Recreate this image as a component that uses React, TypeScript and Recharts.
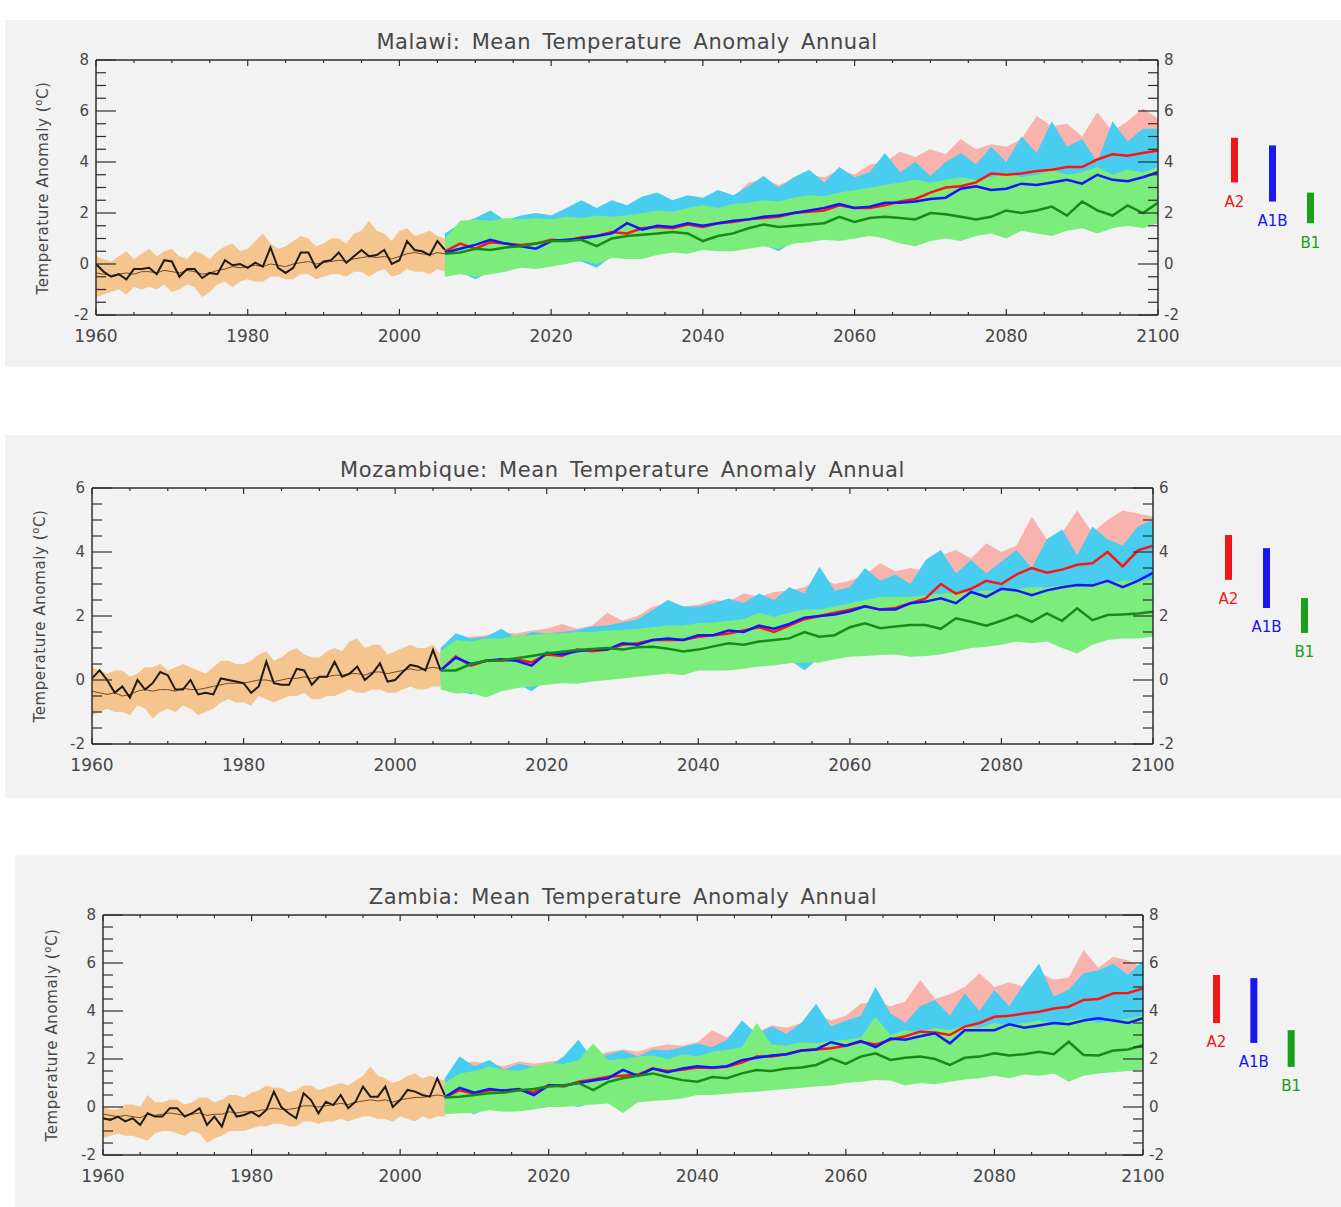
import React from "react"
import { Area, Bar, Cell, ComposedChart, LabelList, Line, XAxis, YAxis } from "recharts"

// ---- axes / categories ----
const histYears = Array.from({ length: 47 }, (_, i) => 1960 + i) // 1960..2006
const projYears = Array.from({ length: 48 }, (_, i) => 2006 + 2 * i) // 2006..2100
const xTicks = [1960, 1965, 1970, 1975, 1980, 1985, 1990, 1995, 2000, 2005, 2010, 2015, 2020, 2025, 2030, 2035, 2040, 2045, 2050, 2055, 2060, 2065, 2070, 2075, 2080, 2085, 2090, 2095, 2100]
const yTicks8 = [-2, -1.5, -1, -0.5, 0, 0.5, 1, 1.5, 2, 2.5, 3, 3.5, 4, 4.5, 5, 5.5, 6, 6.5, 7, 7.5, 8]
const yTicks6 = [-2, -1.5, -1, -0.5, 0, 0.5, 1, 1.5, 2, 2.5, 3, 3.5, 4, 4.5, 5, 5.5, 6]
const scenarios = ["A2", "A1B", "B1"]

// ---- Malawi ----
const malawiObs = [
  0.0, -0.3, -0.5, -0.4, -0.6, -0.2, -0.2, -0.15, -0.4, 0.15,
  0.1, -0.5, -0.2, -0.2, -0.55, -0.35, -0.4, 0.15, -0.05, 0.0,
  -0.15, 0.05, -0.1, 0.65, -0.15, -0.35, -0.15, 0.45, 0.45, -0.15,
  0.1, 0.15, 0.45, 0.05, 0.3, 0.55, 0.3, 0.35, 0.55, 0.0,
  0.15, 0.9, 0.55, 0.5, 0.35, 0.9, 0.55,
]
const malawiMean = [
  -0.35, -0.4, -0.45, -0.4, -0.35, -0.4, -0.3, -0.3, -0.35, -0.25,
  -0.3, -0.35, -0.25, -0.3, -0.4, -0.35, -0.25, -0.2, -0.1, -0.15,
  -0.1, -0.05, -0.1, 0.0, -0.05, -0.1, 0.0, 0.05, 0.1, 0.0,
  0.05, 0.1, 0.15, 0.1, 0.2, 0.25, 0.3, 0.25, 0.3, 0.2,
  0.3, 0.4, 0.45, 0.4, 0.35, 0.45, 0.4,
]
const malawiHistHi = [
  0.3, 0.2, 0.1, 0.3, 0.5, 0.2, 0.4, 0.6, 0.3, 0.5,
  0.6, 0.3, 0.2, 0.5, 0.4, 0.2, 0.5, 0.7, 0.8, 0.5,
  0.6, 0.9, 1.2, 0.8, 0.6, 0.7, 0.9, 1.1, 1.0, 0.7,
  0.8, 1.0, 1.0, 0.8, 1.2, 1.3, 1.7, 1.3, 1.2, 0.9,
  1.3, 1.4, 1.1, 1.2, 1.3, 1.1, 1.0,
]
const malawiHistLo = [
  -1.3, -1.2, -1.1, -1.0, -1.2, -0.9, -1.0, -0.9, -1.0, -0.8,
  -1.1, -1.0, -0.8, -0.9, -1.3, -1.1, -0.8, -0.7, -0.9, -0.7,
  -0.6, -0.7, -0.7, -0.5, -0.5, -0.6, -0.6, -0.4, -0.4, -0.6,
  -0.5, -0.4, -0.4, -0.5, -0.3, -0.3, -0.5, -0.3, -0.2, -0.5,
  -0.4, -0.2, -0.3, -0.3, -0.4, -0.2, -0.3,
]
const malawiA2 = [
  0.5, 0.8, 0.6, 0.85, 0.8, 0.75, 0.8, 0.95, 0.9, 1.05,
  1.1, 1.25, 1.2, 1.4, 1.45, 1.4, 1.55, 1.45, 1.6, 1.65,
  1.75, 1.8, 1.85, 2.0, 2.05, 2.1, 2.3, 2.2, 2.2, 2.3,
  2.45, 2.55, 2.8, 3.0, 3.05, 3.2, 3.55, 3.5, 3.55, 3.65,
  3.7, 3.8, 3.8, 4.1, 4.3, 4.25, 4.35, 4.45,
]
const malawiA1B = [
  0.45, 0.6, 0.75, 0.95, 0.8, 0.7, 0.6, 0.9, 0.95, 1.0,
  1.1, 1.2, 1.6, 1.35, 1.5, 1.45, 1.6, 1.5, 1.6, 1.7,
  1.75, 1.85, 1.9, 2.0, 2.1, 2.2, 2.35, 2.2, 2.25, 2.4,
  2.4, 2.45, 2.55, 2.6, 2.95, 3.05, 2.9, 2.95, 3.15, 3.1,
  3.2, 3.3, 3.15, 3.5, 3.3, 3.25, 3.4, 3.6,
]
const malawiB1 = [
  0.4, 0.45, 0.6, 0.55, 0.65, 0.7, 0.8, 0.9, 0.9, 0.95,
  0.7, 1.0, 1.1, 1.15, 1.2, 1.25, 1.2, 0.9, 1.1, 1.2,
  1.4, 1.55, 1.45, 1.5, 1.55, 1.6, 1.85, 1.65, 1.8, 1.85,
  1.8, 1.75, 2.0, 1.95, 1.85, 1.75, 1.85, 2.1, 2.0, 2.1,
  2.25, 1.9, 2.45, 2.1, 1.9, 2.3, 2.0, 2.4,
]
const malawiB1Hi = [
  1.0, 1.7, 1.75, 1.7, 1.8, 1.75, 1.8, 1.75, 1.85, 1.8,
  1.9, 1.85, 1.9, 2.0, 2.1, 2.05, 2.2, 2.3, 2.2, 2.35,
  2.4, 2.5, 2.45, 2.6, 2.7, 2.65, 2.8, 2.9, 3.0, 3.1,
  3.2, 3.3, 3.2, 3.3, 3.4, 3.3, 3.4, 3.6, 3.4, 3.5,
  3.7, 3.5, 3.6, 3.8, 3.5, 3.7, 3.6, 3.8,
]
const malawiB1Lo = [
  -0.5, -0.4, -0.5, -0.4, -0.3, -0.15, -0.2, -0.1, 0.0, 0.15,
  0.0, 0.25, 0.2, 0.2, 0.35, 0.45, 0.4, 0.55, 0.5, 0.5,
  0.6, 0.7, 0.6, 0.8, 0.85, 0.95, 0.9, 1.0, 1.1, 1.0,
  0.8, 0.7, 0.9, 1.0, 0.9, 1.1, 1.2, 1.0, 1.3, 1.2,
  1.1, 1.3, 1.4, 1.2, 1.4, 1.5, 1.4, 1.6,
]
const malawiA1BHi = [
  1.2, 1.6, 1.8, 2.1, 1.7, 1.9, 2.0, 1.9, 2.2, 2.5,
  2.2, 2.5, 2.3, 2.65, 2.8, 2.5, 2.7, 2.6, 2.9, 2.7,
  3.05, 3.45, 3.0, 3.4, 3.7, 3.2, 3.8, 3.4, 3.6, 4.35,
  3.6, 4.0, 3.45, 4.0, 4.35, 3.9, 4.6, 4.0, 5.0, 4.35,
  5.6, 4.6, 4.9, 4.0, 5.6, 4.8, 5.3, 5.3,
]
const malawiA1BLo = [
  -0.3, -0.3, -0.6, -0.3, -0.2, 0.0, -0.1, 0.0, 0.1, 0.1,
  -0.15, 0.3, 0.35, 0.3, 0.5, 0.55, 0.5, 0.7, 0.65, 0.7,
  0.8, 0.75, 0.5, 0.9, 1.0, 1.05, 1.0, 1.2, 1.2, 1.2,
  1.0, 0.9, 1.1, 1.2, 1.1, 1.3, 1.4, 1.3, 1.5, 1.4,
  1.4, 1.5, 1.6, 1.5, 1.6, 1.7, 1.6, 1.8,
]
const malawiA2Hi = [
  1.0, 1.5, 1.6, 1.8, 1.7, 1.8, 2.0, 1.9, 2.1, 2.3,
  2.1, 2.4, 2.2, 2.5, 2.6, 2.4, 2.6, 2.5, 2.8, 2.6,
  3.2, 3.3, 3.1, 3.3, 3.5, 3.4, 3.7, 3.5, 3.9, 4.0,
  4.4, 4.2, 4.5, 4.3, 4.9, 4.5, 4.7, 4.6, 4.9, 5.8,
  5.4, 5.5, 5.0, 5.95, 5.2, 5.6, 6.1, 5.7,
]
const malawiA2Lo = [
  -0.2, -0.1, -0.2, -0.1, 0.0, 0.1, 0.1, 0.2, 0.3, 0.4,
  0.3, 0.5, 0.5, 0.5, 0.6, 0.7, 0.7, 0.8, 0.8, 0.8,
  0.9, 1.0, 0.9, 1.1, 1.1, 1.2, 1.2, 1.3, 1.4, 1.3,
  1.2, 1.2, 1.3, 1.4, 1.4, 1.5, 1.6, 1.5, 1.7, 1.7,
  1.7, 1.8, 1.9, 1.8, 1.9, 2.0, 2.0, 2.1,
]
const malawiKeyLo = [3.2, 2.45, 1.6]
const malawiKeyHi = [4.95, 4.65, 2.8]

// ---- Mozambique ----
const mozObs = [
  0.05, 0.3, 0.0, -0.4, -0.2, -0.55, 0.0, -0.3, -0.1, 0.25,
  0.15, -0.3, -0.3, 0.0, -0.45, -0.4, -0.45, 0.05, 0.0, -0.05,
  -0.1, -0.4, -0.2, 0.57, -0.1, -0.15, -0.15, 0.35, 0.3, -0.15,
  0.1, 0.1, 0.57, 0.1, 0.2, 0.42, 0.0, 0.2, 0.52, -0.05,
  0.0, 0.25, 0.47, 0.42, 0.3, 0.94, 0.3,
]
const mozMean = [
  -0.35, -0.4, -0.45, -0.4, -0.5, -0.45, -0.35, -0.3, -0.35, -0.3,
  -0.3, -0.35, -0.25, -0.3, -0.3, -0.25, -0.2, -0.15, -0.1, -0.1,
  -0.1, -0.05, 0.0, 0.0, -0.05, 0.0, 0.05, 0.05, 0.1, 0.05,
  0.1, 0.1, 0.15, 0.15, 0.2, 0.2, 0.15, 0.25, 0.25, 0.2,
  0.25, 0.3, 0.35, 0.3, 0.35, 0.4, 0.35,
]
const mozHistHi = [
  0.4, 0.3, 0.2, 0.3, 0.3, 0.1, 0.2, 0.4, 0.4, 0.5,
  0.3, 0.4, 0.5, 0.4, 0.3, 0.2, 0.4, 0.6, 0.6, 0.5,
  0.5, 0.6, 0.8, 0.9, 0.6, 0.7, 0.9, 1.0, 0.8, 0.7,
  0.7, 0.9, 1.0, 0.9, 1.2, 1.3, 1.0, 1.1, 1.1, 0.8,
  0.9, 1.0, 1.1, 1.0, 1.0, 1.1, 0.8,
]
const mozHistLo = [
  -1.1, -1.0, -0.9, -1.0, -1.0, -1.1, -0.8, -0.9, -1.2, -1.0,
  -0.9, -1.0, -0.8, -0.9, -1.1, -1.0, -0.9, -0.7, -0.6, -0.7,
  -0.7, -0.8, -0.5, -0.6, -0.7, -0.6, -0.5, -0.5, -0.4, -0.6,
  -0.6, -0.5, -0.5, -0.4, -0.3, -0.4, -0.4, -0.3, -0.3, -0.4,
  -0.4, -0.3, -0.2, -0.3, -0.3, -0.2, -0.2,
]
const mozA2 = [
  0.3, 0.73, 0.45, 0.6, 0.6, 0.65, 0.55, 0.8, 0.75, 0.95,
  0.9, 0.95, 1.1, 1.15, 1.25, 1.25, 1.25, 1.35, 1.4, 1.45,
  1.55, 1.65, 1.5, 1.7, 1.9, 2.0, 2.1, 2.2, 2.3, 2.2,
  2.25, 2.4, 2.55, 3.0, 2.7, 2.85, 3.1, 3.0, 3.3, 3.5,
  3.35, 3.45, 3.6, 3.65, 4.0, 3.55, 4.05, 4.2,
]
const mozA1B = [
  0.3, 0.7, 0.5, 0.6, 0.65, 0.6, 0.45, 0.85, 0.8, 0.9,
  0.95, 0.95, 1.15, 1.1, 1.25, 1.3, 1.25, 1.4, 1.4, 1.55,
  1.5, 1.7, 1.6, 1.75, 1.95, 2.0, 2.05, 2.15, 2.3, 2.2,
  2.2, 2.4, 2.45, 2.55, 2.4, 2.75, 2.6, 2.85, 2.8, 2.65,
  2.8, 2.9, 2.97, 2.95, 3.1, 2.9, 3.1, 3.35,
]
const mozB1 = [
  0.3, 0.3, 0.5, 0.6, 0.62, 0.68, 0.75, 0.83, 0.88, 0.94,
  0.97, 1.0, 0.95, 1.02, 1.04, 0.98, 0.89, 0.95, 1.05, 1.15,
  1.1, 1.2, 1.25, 1.3, 1.5, 1.35, 1.4, 1.65, 1.77, 1.62,
  1.67, 1.72, 1.72, 1.6, 1.93, 1.82, 1.7, 1.85, 2.03, 1.82,
  2.08, 1.85, 2.24, 1.87, 2.03, 2.05, 2.08, 2.13,
]
const mozB1Hi = [
  0.9, 1.25, 1.2, 1.3, 1.3, 1.4, 1.4, 1.46, 1.45, 1.5,
  1.5, 1.55, 1.56, 1.6, 1.65, 1.7, 1.7, 1.77, 1.8, 1.85,
  1.9, 2.1, 1.98, 2.1, 2.2, 2.2, 2.3, 2.4, 2.5, 2.6,
  2.6, 2.6, 2.65, 2.7, 2.7, 2.75, 2.8, 2.8, 2.85, 2.9,
  2.9, 2.95, 3.0, 3.0, 3.05, 3.1, 3.1, 3.15,
]
const mozB1Lo = [
  -0.3, -0.42, -0.4, -0.55, -0.35, -0.26, -0.2, -0.15, -0.1, -0.12,
  -0.05, 0.0, 0.05, 0.1, 0.15, 0.2, 0.15, 0.3, 0.3, 0.3,
  0.35, 0.42, 0.45, 0.52, 0.55, 0.55, 0.65, 0.73, 0.75, 0.78,
  0.8, 0.73, 0.75, 0.8, 0.9, 1.0, 1.04, 1.1, 1.2, 1.15,
  1.2, 1.0, 0.83, 1.1, 1.25, 1.3, 1.3, 1.35,
]
const mozA1BHi = [
  1.0, 1.46, 1.3, 1.35, 1.6, 1.3, 1.5, 1.46, 1.5, 1.56,
  1.67, 1.7, 1.8, 1.9, 2.19, 2.5, 2.3, 2.29, 2.4, 2.55,
  2.4, 2.7, 2.5, 2.9, 2.7, 3.54, 2.8, 2.9, 3.5, 3.1,
  3.3, 3.0, 3.75, 4.06, 3.33, 3.75, 3.33, 3.7, 4.06, 3.5,
  4.4, 4.7, 3.9, 4.8, 4.4, 4.2, 4.8, 5.0,
]
const mozA1BLo = [
  -0.2, -0.3, -0.45, -0.3, -0.2, -0.1, -0.35, 0.0, 0.0, 0.05,
  0.1, 0.15, 0.2, 0.25, 0.3, 0.35, 0.3, 0.45, 0.45, 0.5,
  0.5, 0.55, 0.6, 0.65, 0.3, 0.7, 0.8, 0.85, 0.9, 0.95,
  1.0, 0.95, 1.0, 1.05, 1.1, 1.2, 1.2, 1.3, 1.35, 1.3,
  1.35, 1.2, 1.1, 1.3, 1.4, 1.45, 1.5, 1.5,
]
const mozA2Hi = [
  0.9, 1.3, 1.35, 1.4, 1.5, 1.45, 1.55, 1.6, 1.75, 1.6,
  1.7, 2.1, 1.85, 2.0, 2.3, 2.4, 2.3, 2.35, 2.5, 2.45,
  2.7, 2.6, 2.75, 2.8, 2.9, 3.2, 3.0, 3.1, 3.3, 3.65,
  3.4, 3.5, 3.4, 3.9, 4.06, 3.8, 4.27, 4.0, 4.2, 5.1,
  4.4, 4.6, 5.3, 4.6, 5.0, 5.3, 5.2, 5.1,
]
const mozA2Lo = [
  0.0, -0.15, -0.1, -0.2, -0.1, 0.0, 0.05, 0.1, 0.15, 0.15,
  0.2, 0.25, 0.3, 0.35, 0.4, 0.45, 0.4, 0.55, 0.55, 0.55,
  0.6, 0.65, 0.7, 0.75, 0.8, 0.8, 0.9, 0.95, 1.0, 1.0,
  1.05, 1.0, 1.0, 1.05, 1.15, 1.25, 1.3, 1.35, 1.45, 1.4,
  1.45, 1.3, 1.2, 1.35, 1.5, 1.55, 1.55, 1.6,
]
const mozKeyLo = [3.13, 2.25, 1.47]
const mozKeyHi = [4.53, 4.12, 2.56]

// ---- Zambia ----
const zamObs = [
  -0.47, -0.54, -0.4, -0.6, -0.47, -0.75, -0.26, -0.4, -0.4, -0.05,
  -0.05, -0.4, -0.26, -0.05, -0.75, -0.4, -0.82, 0.08, -0.4, -0.33,
  -0.2, -0.4, -0.12, 0.64, 0.0, -0.26, -0.47, 0.57, 0.29, -0.26,
  0.22, 0.08, 0.5, -0.05, 0.22, 0.85, 0.43, 0.43, 0.85, 0.0,
  0.29, 0.71, 0.64, 0.5, 0.43, 1.2, 0.5,
]
const zamMean = [
  -0.3, -0.35, -0.4, -0.35, -0.4, -0.45, -0.3, -0.35, -0.3, -0.25,
  -0.3, -0.35, -0.3, -0.25, -0.35, -0.3, -0.3, -0.2, -0.25, -0.2,
  -0.2, -0.15, -0.1, -0.05, -0.1, -0.1, -0.05, 0.05, 0.05, 0.0,
  0.05, 0.1, 0.15, 0.1, 0.2, 0.25, 0.3, 0.25, 0.3, 0.2,
  0.3, 0.35, 0.4, 0.4, 0.45, 0.5, 0.45,
]
const zamHistHi = [
  0.0, -0.1, -0.1, 0.1, 0.1, 0.0, 0.5, 0.2, 0.2, 0.3,
  0.3, 0.1, 0.2, 0.4, 0.4, 0.2, 0.3, 0.5, 0.5, 0.4,
  0.6, 0.7, 0.9, 0.8, 0.8, 0.6, 0.7, 0.9, 0.9, 0.7,
  0.8, 0.9, 1.0, 0.9, 1.1, 1.3, 1.7, 1.3, 1.2, 1.0,
  1.1, 1.3, 1.4, 1.2, 1.3, 1.2, 1.1,
]
const zamHistLo = [
  -1.3, -1.2, -1.1, -1.2, -1.2, -1.3, -1.4, -1.1, -1.0, -1.0,
  -1.1, -1.2, -1.0, -1.1, -1.5, -1.3, -1.2, -1.0, -1.0, -1.0,
  -0.9, -0.8, -0.8, -0.7, -0.7, -0.8, -0.8, -0.6, -0.6, -0.7,
  -0.6, -0.6, -0.5, -0.6, -0.5, -0.4, -0.4, -0.5, -0.5, -0.6,
  -0.4, -0.5, -0.6, -0.4, -0.5, -0.4, -0.4,
]
const zamA2 = [
  0.4, 0.7, 0.55, 0.7, 0.7, 0.72, 0.62, 0.92, 0.85, 1.05,
  1.15, 1.26, 1.3, 1.35, 1.6, 1.5, 1.55, 1.65, 1.62, 1.68,
  1.85, 2.1, 2.1, 2.2, 2.35, 2.4, 2.45, 2.55, 2.72, 2.6,
  2.8, 2.95, 3.14, 3.1, 3.0, 3.35, 3.5, 3.76, 3.8, 3.9,
  3.97, 4.1, 4.18, 4.46, 4.5, 4.74, 4.75, 4.94,
]
const zamA1B = [
  0.4, 0.8, 0.6, 0.75, 0.68, 0.75, 0.5, 0.9, 0.9, 1.0,
  1.1, 1.2, 1.55, 1.3, 1.6, 1.45, 1.6, 1.7, 1.65, 1.7,
  1.95, 2.05, 2.15, 2.2, 2.35, 2.4, 2.7, 2.55, 2.75, 2.5,
  2.85, 2.8, 2.95, 3.07, 2.65, 3.2, 3.2, 3.2, 3.45, 3.3,
  3.4, 3.5, 3.45, 3.6, 3.7, 3.6, 3.5, 3.7,
]
const zamB1 = [
  0.4, 0.43, 0.5, 0.57, 0.6, 0.7, 0.75, 0.85, 0.9, 1.0,
  0.7, 1.05, 1.2, 1.3, 1.4, 1.25, 1.12, 1.05, 1.25, 1.2,
  1.4, 1.54, 1.5, 1.6, 1.65, 1.75, 2.03, 1.8, 2.1, 2.24,
  1.96, 2.05, 2.1, 2.0, 1.75, 2.05, 2.1, 2.24, 2.15, 2.2,
  2.3, 2.2, 2.72, 2.17, 2.15, 2.35, 2.4, 2.58,
]
const zamB1Hi = [
  1.0, 1.4, 1.5, 1.68, 1.55, 1.5, 1.7, 1.82, 1.8, 1.95,
  2.65, 1.95, 2.0, 2.1, 2.15, 2.0, 2.2, 2.1, 2.3, 2.38,
  2.5, 3.5, 2.6, 2.55, 2.7, 2.65, 2.75, 2.8, 2.9, 3.76,
  3.0, 3.2, 3.1, 3.3, 3.2, 3.4, 3.3, 3.5, 3.4, 3.5,
  3.6, 3.5, 3.6, 3.7, 3.5, 3.6, 3.7, 3.8,
]
const zamB1Lo = [
  -0.3, -0.26, -0.25, -0.12, -0.2, -0.18, -0.1, 0.0, 0.0, 0.05,
  0.1, 0.15, -0.25, 0.2, 0.25, 0.29, 0.35, 0.5, 0.5, 0.55,
  0.6, 0.64, 0.7, 0.75, 0.8, 0.85, 0.9, 1.0, 1.05, 1.12,
  1.1, 0.9, 1.0, 0.95, 1.05, 1.15, 1.2, 1.3, 1.2, 1.35,
  1.3, 1.4, 1.05, 1.3, 1.4, 1.45, 1.5, 1.55,
]
const zamA1BHi = [
  1.2, 2.1, 1.7, 1.96, 1.55, 1.8, 1.68, 1.68, 2.1, 2.8,
  1.96, 2.2, 2.35, 2.1, 2.4, 2.35, 2.5, 2.65, 2.5, 2.8,
  3.6, 3.05, 3.35, 3.05, 3.5, 4.3, 3.35, 3.6, 3.8, 5.0,
  3.9, 3.5, 4.2, 4.46, 3.8, 4.74, 4.0, 4.88, 4.2, 5.15,
  5.97, 4.6, 4.9, 5.57, 5.7, 5.97, 5.5, 6.1,
]
const zamA1BLo = [
  -0.2, -0.1, -0.3, 0.0, -0.1, -0.05, 0.0, 0.1, 0.1, 0.0,
  0.2, 0.25, 0.2, 0.3, 0.35, 0.4, 0.45, 0.6, 0.6, 0.65,
  0.7, 0.75, 0.8, 0.85, 0.9, 0.95, 1.0, 1.1, 1.15, 1.2,
  1.2, 1.05, 1.15, 1.1, 1.2, 1.3, 1.35, 1.45, 1.35, 1.5,
  1.45, 1.55, 1.3, 1.45, 1.55, 1.6, 1.65, 1.7,
]
const zamA2Hi = [
  1.1, 1.8, 1.9, 1.8, 1.7, 1.9, 1.8, 1.9, 1.95, 2.3,
  2.1, 2.3, 2.4, 2.3, 2.5, 2.6, 2.55, 2.7, 3.2, 2.9,
  3.3, 3.1, 3.4, 3.3, 3.5, 3.9, 3.6, 3.8, 4.3, 4.4,
  4.2, 4.4, 5.3, 4.5, 4.7, 5.0, 5.57, 5.0, 5.2, 5.0,
  5.6, 5.3, 5.4, 6.54, 5.8, 6.26, 6.1, 5.8,
]
const zamA2Lo = [
  0.0, 0.0, -0.05, 0.1, 0.05, 0.05, 0.1, 0.2, 0.2, 0.25,
  0.3, 0.35, 0.1, 0.4, 0.45, 0.5, 0.55, 0.7, 0.7, 0.75,
  0.8, 0.85, 0.9, 0.95, 1.0, 1.05, 1.1, 1.2, 1.25, 1.3,
  1.3, 1.15, 1.25, 1.2, 1.3, 1.4, 1.45, 1.55, 1.45, 1.6,
  1.55, 1.65, 1.4, 1.55, 1.65, 1.7, 1.75, 1.8,
]
const zamKeyLo = [3.5, 2.67, 1.67]
const zamKeyHi = [5.5, 5.37, 3.2]

// ---- styling ----
const FONT = '"DejaVu Sans", sans-serif'
const TEXT = "#474747"
const AXIS = "#2e2e2e"
const PANEL_BG = "#f2f2f2"
const C = {
  hist: "#f5c590",
  a2Band: "#f8b3ad",
  a1bBand: "#48cdf0",
  b1Band: "#7ced7c",
  obs: "#1e1a16",
  mean: "#7a4a1e",
  a2: "#ff1414",
  a1b: "#1414ff",
  b1: "#178a17",
}
const keyColors = ["#ee1818", "#1818ee", "#18a018"]

const panels = [
  {
    title: "Malawi: Mean Temperature Anomaly Annual",
    bg: { left: 5, top: 20, width: 1336, height: 347 },
    top: 20, height: 347, plotLeft: 96, plotRight: 1158, plotTop: 40, plotBottom: 295,
    titleY: 22, yLabelX: 43, keyLeft: 1215, keyWidth: 114,
    yDomain: [-2, 8], yTicks: yTicks8,
    obs: malawiObs, mean: malawiMean, histLo: malawiHistLo, histHi: malawiHistHi,
    a2: malawiA2, a1b: malawiA1B, b1: malawiB1,
    a2Lo: malawiA2Lo, a2Hi: malawiA2Hi, a1bLo: malawiA1BLo, a1bHi: malawiA1BHi, b1Lo: malawiB1Lo, b1Hi: malawiB1Hi,
    keyLo: malawiKeyLo, keyHi: malawiKeyHi,
  },
  {
    title: "Mozambique: Mean Temperature Anomaly Annual",
    bg: { left: 5, top: 435, width: 1336, height: 363 },
    top: 435, height: 363, plotLeft: 92, plotRight: 1153, plotTop: 53, plotBottom: 309,
    titleY: 35, yLabelX: 40, keyLeft: 1209, keyWidth: 114,
    yDomain: [-2, 6], yTicks: yTicks6,
    obs: mozObs, mean: mozMean, histLo: mozHistLo, histHi: mozHistHi,
    a2: mozA2, a1b: mozA1B, b1: mozB1,
    a2Lo: mozA2Lo, a2Hi: mozA2Hi, a1bLo: mozA1BLo, a1bHi: mozA1BHi, b1Lo: mozB1Lo, b1Hi: mozB1Hi,
    keyLo: mozKeyLo, keyHi: mozKeyHi,
  },
  {
    title: "Zambia: Mean Temperature Anomaly Annual",
    bg: { left: 15, top: 855, width: 1326, height: 352 },
    top: 855, height: 352, plotLeft: 103, plotRight: 1143, plotTop: 60, plotBottom: 300,
    titleY: 42, yLabelX: 52, keyLeft: 1198, keyWidth: 112,
    yDomain: [-2, 8], yTicks: yTicks8,
    obs: zamObs, mean: zamMean, histLo: zamHistLo, histHi: zamHistHi,
    a2: zamA2, a1b: zamA1B, b1: zamB1,
    a2Lo: zamA2Lo, a2Hi: zamA2Hi, a1bLo: zamA1BLo, a1bHi: zamA1BHi, b1Lo: zamB1Lo, b1Hi: zamB1Hi,
    keyLo: zamKeyLo, keyHi: zamKeyHi,
  },
]

function buildRows(p: any) {
  const rows = new Map<number, any>()
  const put = (years: number[], key: string, vals: any[]) =>
    years.forEach((yr, i) => {
      const r = rows.get(yr) ?? { year: yr }
      r[key] = vals[i]
      rows.set(yr, r)
    })
  put(histYears, "obs", p.obs)
  put(histYears, "mean", p.mean)
  put(histYears, "hist", histYears.map((_, i) => [p.histLo[i], p.histHi[i]]))
  put(projYears, "a2", p.a2)
  put(projYears, "a1b", p.a1b)
  put(projYears, "b1", p.b1)
  put(projYears, "a2Band", projYears.map((_, i) => [p.a2Lo[i], p.a2Hi[i]]))
  put(projYears, "a1bBand", projYears.map((_, i) => [p.a1bLo[i], p.a1bHi[i]]))
  put(projYears, "b1Band", projYears.map((_, i) => [p.b1Lo[i], p.b1Hi[i]]))
  return [...rows.values()].sort((a, b) => a.year - b.year)
}

const fmt = (v: number) => String(v)

const BottomTick = (props: any) => {
  const { x, y, payload } = props
  const major = payload.value % 20 === 0
  return (
    <g>
      <line x1={x} x2={x} y1={y} y2={y - (major ? 6 : 3)} stroke={AXIS} strokeWidth={1.2} />
      {major && (
        <text x={x} y={y + 21} dy="0.36em" textAnchor="middle" fill={TEXT} fontSize={17} fontFamily={FONT}>
          {payload.value}
        </text>
      )}
    </g>
  )
}

const TopTick = (props: any) => {
  const { x, y, payload } = props
  const major = payload.value % 20 === 0
  return <line x1={x} x2={x} y1={y} y2={y + (major ? 6 : 3)} stroke={AXIS} strokeWidth={1.2} />
}

const LeftTick = (props: any) => {
  const { x, y, payload } = props
  const major = payload.value % 2 === 0
  return (
    <g>
      <line x1={x} x2={x + (major ? 20 : 10)} y1={y} y2={y} stroke={AXIS} strokeWidth={1.2} />
      {major && (
        <text x={x - 7} y={y} dy="0.36em" textAnchor="end" fill={TEXT} fontSize={15} fontFamily={FONT}>
          {fmt(payload.value)}
        </text>
      )}
    </g>
  )
}

const RightTick = (props: any) => {
  const { x, y, payload } = props
  const major = payload.value % 2 === 0
  return (
    <g>
      <line x1={x} x2={x - (major ? 20 : 10)} y1={y} y2={y} stroke={AXIS} strokeWidth={1.2} />
      {major && (
        <text x={x + 6} y={y} dy="0.36em" textAnchor="start" fill={TEXT} fontSize={15} fontFamily={FONT}>
          {fmt(payload.value)}
        </text>
      )}
    </g>
  )
}

const axisLine = { stroke: AXIS, strokeWidth: 1.5 }
const W = 1200

function Panel({ p }: { p: any }) {
  const rows = buildRows(p)
  const h = p.height
  const keyRows = scenarios.map((name, i) => ({ name, range: [p.keyLo[i], p.keyHi[i]] }))
  const midY = p.top + (p.plotTop + p.plotBottom) / 2
  return (
    <>
      <div style={{ position: "absolute", ...p.bg, background: PANEL_BG }} />
      <div
        style={{
          position: "absolute",
          left: p.plotLeft,
          width: p.plotRight - p.plotLeft,
          top: p.top + p.titleY - 15,
          height: 30,
          lineHeight: "30px",
          textAlign: "center",
          fontFamily: FONT,
          fontSize: 21,
          letterSpacing: 0.6,
          wordSpacing: 4,
          color: TEXT,
        }}
      >
        {p.title}
      </div>
      <div
        style={{
          position: "absolute",
          left: p.yLabelX - 150,
          top: midY - 11,
          width: 300,
          height: 22,
          lineHeight: "22px",
          textAlign: "center",
          transform: "rotate(-90deg)",
          fontFamily: FONT,
          fontSize: 15,
          letterSpacing: 0.6,
          color: TEXT,
          whiteSpace: "nowrap",
        }}
      >
        Temperature Anomaly (<span style={{ fontSize: 10, position: "relative", top: -6 }}>o</span>C)
      </div>
      <div style={{ position: "absolute", left: 0, top: p.top }}>
        <ComposedChart width={W} height={h} data={rows} margin={{ top: 0, right: 0, bottom: 0, left: 0 }}>
          <XAxis
            xAxisId="b"
            dataKey="year"
            type="number"
            orientation="bottom"
            domain={[1960, 2100]}
            allowDataOverflow
            ticks={xTicks}
            interval={0}
            height={h - p.plotBottom}
            tickLine={false}
            tickSize={0}
            tickMargin={0}
            axisLine={axisLine}
            tick={BottomTick}
          />
          <XAxis
            xAxisId="t"
            dataKey="year"
            type="number"
            orientation="top"
            domain={[1960, 2100]}
            allowDataOverflow
            ticks={xTicks}
            interval={0}
            height={p.plotTop}
            tickLine={false}
            tickSize={0}
            tickMargin={0}
            axisLine={axisLine}
            tick={TopTick}
          />
          <YAxis
            yAxisId="l"
            type="number"
            domain={p.yDomain}
            allowDataOverflow
            ticks={p.yTicks}
            interval={0}
            width={p.plotLeft}
            tickLine={false}
            tickSize={0}
            tickMargin={0}
            axisLine={axisLine}
            tick={LeftTick}
          />
          <YAxis
            yAxisId="r"
            type="number"
            orientation="right"
            domain={p.yDomain}
            allowDataOverflow
            ticks={p.yTicks}
            interval={0}
            width={W - p.plotRight}
            tickLine={false}
            tickSize={0}
            tickMargin={0}
            axisLine={axisLine}
            tick={RightTick}
          />
          <Area xAxisId="b" yAxisId="l" type="linear" dataKey="hist" stroke="none" fill={C.hist} fillOpacity={1} dot={false} activeDot={false} isAnimationActive={false} />
          <Area xAxisId="b" yAxisId="l" type="linear" dataKey="a2Band" stroke="none" fill={C.a2Band} fillOpacity={1} dot={false} activeDot={false} isAnimationActive={false} />
          <Area xAxisId="b" yAxisId="l" type="linear" dataKey="a1bBand" stroke="none" fill={C.a1bBand} fillOpacity={1} dot={false} activeDot={false} isAnimationActive={false} />
          <Area xAxisId="b" yAxisId="l" type="linear" dataKey="b1Band" stroke="none" fill={C.b1Band} fillOpacity={1} dot={false} activeDot={false} isAnimationActive={false} />
          <Line xAxisId="b" yAxisId="l" type="linear" dataKey="mean" stroke={C.mean} strokeWidth={1} dot={false} activeDot={false} isAnimationActive={false} />
          <Line xAxisId="b" yAxisId="l" type="linear" dataKey="obs" stroke={C.obs} strokeWidth={2} dot={false} activeDot={false} isAnimationActive={false} />
          <Line xAxisId="b" yAxisId="l" type="linear" dataKey="a2" stroke={C.a2} strokeWidth={2.5} dot={false} activeDot={false} isAnimationActive={false} />
          <Line xAxisId="b" yAxisId="l" type="linear" dataKey="a1b" stroke={C.a1b} strokeWidth={2.5} dot={false} activeDot={false} isAnimationActive={false} />
          <Line xAxisId="b" yAxisId="l" type="linear" dataKey="b1" stroke={C.b1} strokeWidth={2.5} dot={false} activeDot={false} isAnimationActive={false} />
        </ComposedChart>
      </div>
      <div style={{ position: "absolute", left: p.keyLeft, top: p.top }}>
        <ComposedChart
          width={p.keyWidth}
          height={h}
          data={keyRows}
          margin={{ top: p.plotTop, right: 0, bottom: h - p.plotBottom, left: 0 }}
        >
          <XAxis dataKey="name" type="category" hide />
          <YAxis type="number" domain={p.yDomain} allowDataOverflow hide width={0} />
          <Bar dataKey="range" barSize={7} isAnimationActive={false}>
            {keyRows.map((r, i) => (
              <Cell key={r.name} fill={keyColors[i]} />
            ))}
            <LabelList
              dataKey="name"
              content={(lp: any) => (
                <text
                  x={lp.x + lp.width / 2}
                  y={lp.y + lp.height + 19}
                  dy="0.36em"
                  textAnchor="middle"
                  fill={keyColors[lp.index]}
                  fontSize={15}
                  fontFamily={FONT}
                >
                  {lp.value}
                </text>
              )}
            />
          </Bar>
        </ComposedChart>
      </div>
    </>
  )
}

export default function App() {
  return (
    <div style={{ position: "absolute", left: 0, top: 0, width: 1341, height: 1207, background: "#ffffff", overflow: "hidden" }}>
      {panels.map((p) => (
        <Panel key={p.title} p={p} />
      ))}
    </div>
  )
}
